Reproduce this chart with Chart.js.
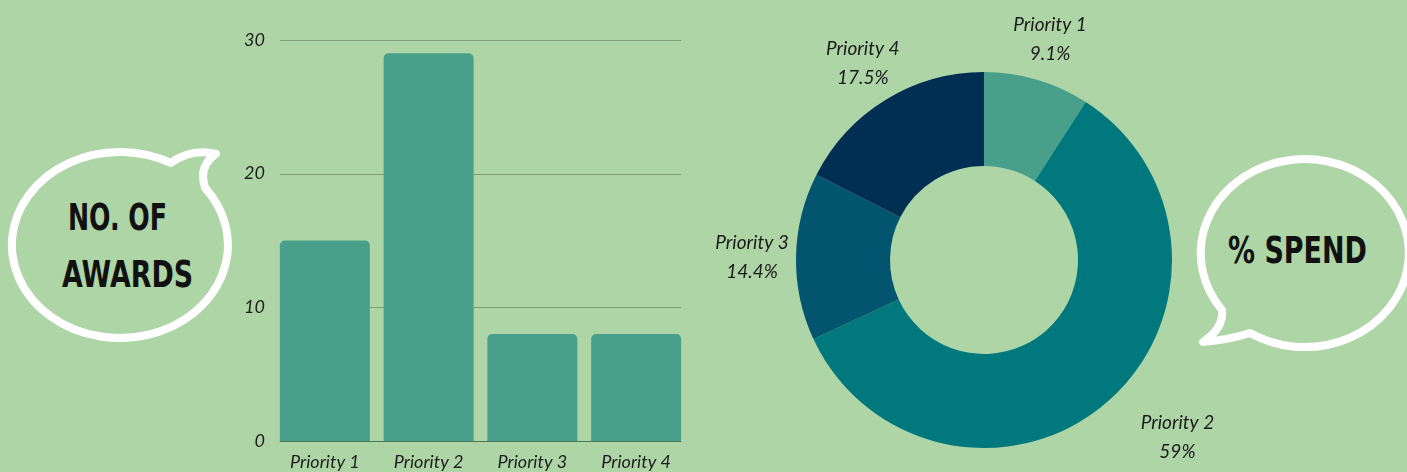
<!DOCTYPE html>
<html>
<head>
<meta charset="utf-8">
<script src="https://cdn.jsdelivr.net/npm/chart.js@4"></script>
<style>
    html, body { margin: 0; padding: 0; }
    body { width: 1407px; height: 472px; background: #aed5a5; position: relative; overflow: hidden; }
    #bubbles { position: absolute; left: 0; top: 0; }
    #barBox { position: absolute; left: 230px; top: 0; width: 470px; height: 472px; }
    #donutBox { position: absolute; left: 700px; top: 0; width: 568px; height: 472px; }
</style>
</head>
<body>
<svg id="bubbles" width="1407" height="472">
    <path d="M 205,187.7 A 108 93 0 1 1 170.7,162.9 Q 192,148 216,154 Q 198,166 205,187.7 Z"
          fill="none" stroke="#ffffff" stroke-width="8" stroke-linejoin="round"/>
    <path d="M 1250,333 A 104 94 0 1 0 1222,310 Q 1224,328 1203,342 Q 1228,340 1250,333 Z"
          fill="none" stroke="#ffffff" stroke-width="8" stroke-linejoin="round"/>
    <g font-family="DejaVu Sans" font-weight="bold" font-size="37" fill="#111" text-anchor="middle">
        <text x="117.5" y="230" textLength="99" lengthAdjust="spacingAndGlyphs">NO. OF</text>
        <text x="127.5" y="287" textLength="131" lengthAdjust="spacingAndGlyphs">AWARDS</text>
        <text x="1297.5" y="263" textLength="139" lengthAdjust="spacingAndGlyphs">% SPEND</text>
    </g>
</svg>
<div id="barBox"><canvas id="barChart"></canvas></div>
<div id="donutBox"><canvas id="donutChart"></canvas></div>
<script>
const categories = ["Priority 1", "Priority 2", "Priority 3", "Priority 4"];
const awardCounts = [15, 29, 8, 8];
const spendShares = [9.1, 59, 14.4, 17.5];
const yTicks = [0, 10, 20, 30];

const barColor = "#48a08b";
const sliceColors = ["#48a08b", "#00787e", "#02546f", "#012e53"];
const labelFont = "italic 19px Lato";

// grid lines only run under the bars, not across the whole chart area
const insetGrid = {
    id: "insetGrid",
    edges(chart) {
        const bars = chart.getDatasetMeta(0).data;
        const first = bars[0], last = bars[bars.length - 1];
        return [first.x - first.width / 2, last.x + last.width / 2];
    },
    beforeDatasetsDraw(chart) {
        const [left, right] = this.edges(chart);
        const yScale = chart.scales.y;
        const ctx = chart.ctx;
        ctx.save();
        ctx.strokeStyle = "#7f9e77";
        ctx.lineWidth = 1;
        yScale.ticks.forEach(t => {
            if (t.value === 0) return;
            const py = Math.round(yScale.getPixelForValue(t.value)) + 0.5;
            ctx.beginPath();
            ctx.moveTo(left, py);
            ctx.lineTo(right, py);
            ctx.stroke();
        });
        ctx.restore();
    },
    afterDatasetsDraw(chart) {
        const [left, right] = this.edges(chart);
        const py = Math.round(chart.scales.y.getPixelForValue(0)) + 0.5;
        const ctx = chart.ctx;
        ctx.save();
        ctx.strokeStyle = "#4e7653";
        ctx.lineWidth = 1;
        ctx.beginPath();
        ctx.moveTo(left, py);
        ctx.lineTo(right, py);
        ctx.stroke();
        ctx.restore();
    },
};

new Chart(document.getElementById("barChart").getContext("2d"), {
    type: "bar",
    data: {
        labels: categories,
        datasets: [{
            data: awardCounts,
            backgroundColor: barColor,
            borderRadius: {topLeft: 5, topRight: 5},
            borderSkipped: "bottom",
            categoryPercentage: 1,
            barPercentage: 0.8675,
        }],
    },
    options: {
        responsive: true,
        maintainAspectRatio: false,
        animation: false,
        layout: {padding: {top: 40, right: 12, left: 0, bottom: 0}},
        plugins: {legend: {display: false}, tooltip: {enabled: false}},
        scales: {
            x: {
                grid: {display: false, drawTicks: false},
                border: {display: false},
                ticks: {color: "#1e1e1e", font: {family: "Lato", style: "italic", size: 18}, padding: 10, maxRotation: 0},
                afterFit(scale) { scale.height = 31; },
            },
            y: {
                min: 0,
                max: 30,
                afterBuildTicks(scale) { scale.ticks = yTicks.map(v => ({value: v})); },
                grid: {display: false, drawTicks: false},
                border: {display: false},
                ticks: {color: "#1e1e1e", font: {family: "Lato", style: "italic", size: 18}, padding: 8},
                afterFit(scale) { scale.width = 43; },
            },
        },
    },
    plugins: [insetGrid],
});

// name and share printed outside each slice, shifted from the slice's outer middle point
const labelShift = [[13, -41], [70, 35], [-44, 0], [-23, -37]];
const sliceLabels = {
    id: "sliceLabels",
    afterDatasetsDraw(chart) {
        const ctx = chart.ctx;
        const arcs = chart.getDatasetMeta(0).data;
        ctx.save();
        ctx.fillStyle = "#1a1a1a";
        ctx.font = labelFont;
        ctx.textAlign = "center";
        ctx.textBaseline = "middle";
        arcs.forEach((arc, i) => {
            const mid = (arc.startAngle + arc.endAngle) / 2;
            const x = arc.x + Math.cos(mid) * arc.outerRadius + labelShift[i][0];
            const y = arc.y + Math.sin(mid) * arc.outerRadius + labelShift[i][1];
            ctx.fillText(categories[i], x, y - 14);
            ctx.fillText(spendShares[i] + "%", x, y + 15);
        });
        ctx.restore();
    },
};

new Chart(document.getElementById("donutChart").getContext("2d"), {
    type: "doughnut",
    data: {
        labels: categories,
        datasets: [{
            data: spendShares,
            backgroundColor: sliceColors,
            borderWidth: 0,
        }],
    },
    options: {
        responsive: true,
        maintainAspectRatio: false,
        animation: false,
        cutout: "50%",
        layout: {padding: {left: 96, right: 96, top: 72, bottom: 24}},
        plugins: {legend: {display: false}, tooltip: {enabled: false}},
    },
    plugins: [sliceLabels],
});
</script>
</body>
</html>
